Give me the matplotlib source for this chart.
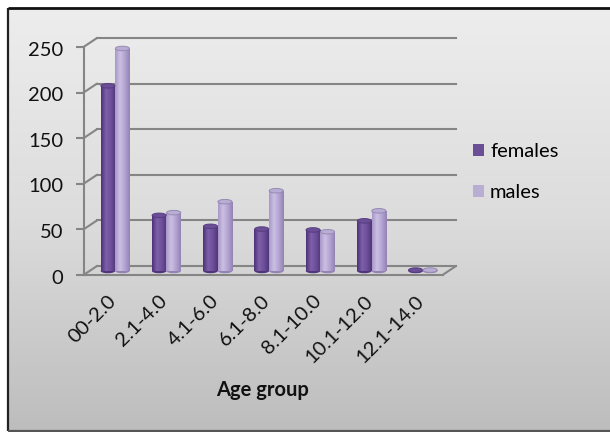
import numpy as np
import matplotlib
matplotlib.use("Agg")
import matplotlib.pyplot as plt
from matplotlib import transforms as mtransforms
from matplotlib.patches import Ellipse, Patch, ConnectionPatch
from matplotlib.colors import LinearSegmentedColormap

# ---- data ----
age_groups = ["00-2.0", "2.1-4.0", "4.1-6.0", "6.1-8.0", "8.1-10.0", "10.1-12.0", "12.1-14.0"]
females = [203, 61, 49, 46, 45, 55, 1]
males = [244, 64, 76, 88, 43, 66, 1]
y_ticks = [0, 50, 100, 150, 200, 250]
series_names = ["females", "males"]
x_title = "Age group"

plt.rcParams['font.family'] = ['Lato', 'DejaVu Sans']
FS = 14.5

W, H = 610, 432
fig = plt.figure(figsize=(W / 100, H / 100), dpi=100)
fig.patch.set_facecolor('white')

# ---- chart area background with frame ----
bg = fig.add_axes([0, 0, 1, 1], zorder=-10)
bg.set_xlim(0, W)
bg.set_ylim(H, 0)
bg.axis('off')
grad = np.linspace(0, 1, 256)[:, None]
bg_cmap = LinearSegmentedColormap.from_list('bg', ['#ededed', '#dcdcdc', '#bdbdbd'])
bg.imshow(grad, extent=[8, W, 431, 8], cmap=bg_cmap, aspect='auto', interpolation='bilinear')
bg.plot([8, 8], [8, 431], color='#222222', lw=1.6, solid_capstyle='butt')
bg.plot([8, W], [8, 8], color='#111111', lw=2.0, solid_capstyle='butt')
bg.plot([8, W], [431, 431], color='#555555', lw=1.6, solid_capstyle='butt')
bg.set_xlim(0, W)
bg.set_ylim(H, 0)

# ---- plot plane (where the columns stand) ----
L, R = 89.5, 448.5
Y0, YTOP = 271, 43
ax = fig.add_axes([L / W, (H - Y0) / H, (R - L) / W, (Y0 - YTOP) / H])
ax.set_xlim(-0.5, 6.5)
ax.set_ylim(0, 250)
ax.axis('off')


def shifted(dx, dy):
    return mtransforms.offset_copy(ax.transData, fig=fig, x=dx, y=dy, units='dots')


back = shifted(7.5, 5)
front = shifted(-6, -4)
grid_col = '#858585'

# back wall gridlines and side-wall diagonals
for t in y_ticks:
    ax.plot([-0.5, 6.5], [t, t], transform=back, color=grid_col, lw=1.5, clip_on=False, zorder=1)
    ax.add_artist(ConnectionPatch(xyA=(-0.5, t), coordsA=front, xyB=(-0.5, t), coordsB=back,
                                  arrowstyle='-', shrinkA=0, shrinkB=0, color=grid_col, lw=1.5,
                                  zorder=1, clip_on=False))
    ax.plot([-0.5], [t], transform=front, marker=0, markersize=6, markeredgewidth=1.5,
            color=grid_col, clip_on=False, zorder=1)
    ax.text(-0.5, t, str(t), transform=shifted(-26, -7), ha='right', va='center',
            fontsize=FS, color='#111111')

# front axis line and floor outline
ax.plot([-0.5, -0.5], [0, 250], transform=front, color=grid_col, lw=1.5, clip_on=False, zorder=1)
ax.plot([-0.5, 6.5], [0, 0], transform=front, color=grid_col, lw=1.5, clip_on=False, zorder=1)
ax.add_artist(ConnectionPatch(xyA=(6.5, 0), coordsA=front, xyB=(6.5, 0), coordsB=back,
                              arrowstyle='-', shrinkA=0, shrinkB=0, color=grid_col, lw=1.5,
                              zorder=1, clip_on=False))

# ---- cylinder columns ----
x = np.arange(len(age_groups))
bw = 0.283
px_per_unit = (Y0 - YTOP) / 250.0
cap_h = 4.5 / px_per_unit

styles = {
    "females": dict(body=['#4d3276', '#7d5fab', '#6d4f9a', '#4f357a'], cap='#6a4e96', rim='#563c80'),
    "males": dict(body=['#a797c8', '#cbc0e3', '#b2a3d2', '#9283b4'], cap='#b8add3', rim='#978ab4'),
}
shade = np.linspace(0, 1, 64)[None, :]

for name, vals, offs in [("females", females, -bw / 2), ("males", males, bw / 2)]:
    st = styles[name]
    cmap = LinearSegmentedColormap.from_list(name, st['body'])
    bars = ax.bar(x + offs, vals, bw, color=st['body'][2], zorder=3, linewidth=0)
    for b, v in zip(bars, vals):
        xc = b.get_x() + b.get_width() / 2
        # rounded bottom
        ax.add_patch(Ellipse((xc, 0), bw, cap_h, facecolor=st['body'][3], edgecolor='none',
                             zorder=2.9, clip_on=False))
        im = ax.imshow(shade, extent=[b.get_x(), b.get_x() + b.get_width(), 0, v], cmap=cmap,
                       aspect='auto', interpolation='bilinear', zorder=3.1)
        im.set_clip_path(b)
        # top cap
        ax.add_patch(Ellipse((xc, v), bw * 0.97, cap_h, facecolor=st['cap'], edgecolor=st['rim'],
                             lw=0.7, zorder=3.2, clip_on=False))

ax.set_xlim(-0.5, 6.5)
ax.set_ylim(0, 250)

# category labels
for i, lab in enumerate(age_groups):
    ax.text(i, 0, lab, transform=shifted(-8, -21), rotation=45, rotation_mode='anchor',
            ha='right', va='top', fontsize=FS, color='#111111')

fig.text(263 / W, 1 - 390 / H, x_title, ha='center', va='center', fontsize=FS,
         fontweight='bold', color='#111111')

# legend
handles = [Patch(facecolor=styles["females"]['cap'], edgecolor='none'),
           Patch(facecolor=styles["males"]['cap'], edgecolor='none')]
fig.legend(handles=handles, labels=series_names, loc='upper left',
           bbox_to_anchor=(473 / W, 1 - 143 / H), frameon=False, fontsize=FS,
           handlelength=0.55, handleheight=0.6, handletextpad=0.3, labelspacing=1.2,
           borderpad=0, borderaxespad=0)

fig.savefig('out.png', dpi=100)
